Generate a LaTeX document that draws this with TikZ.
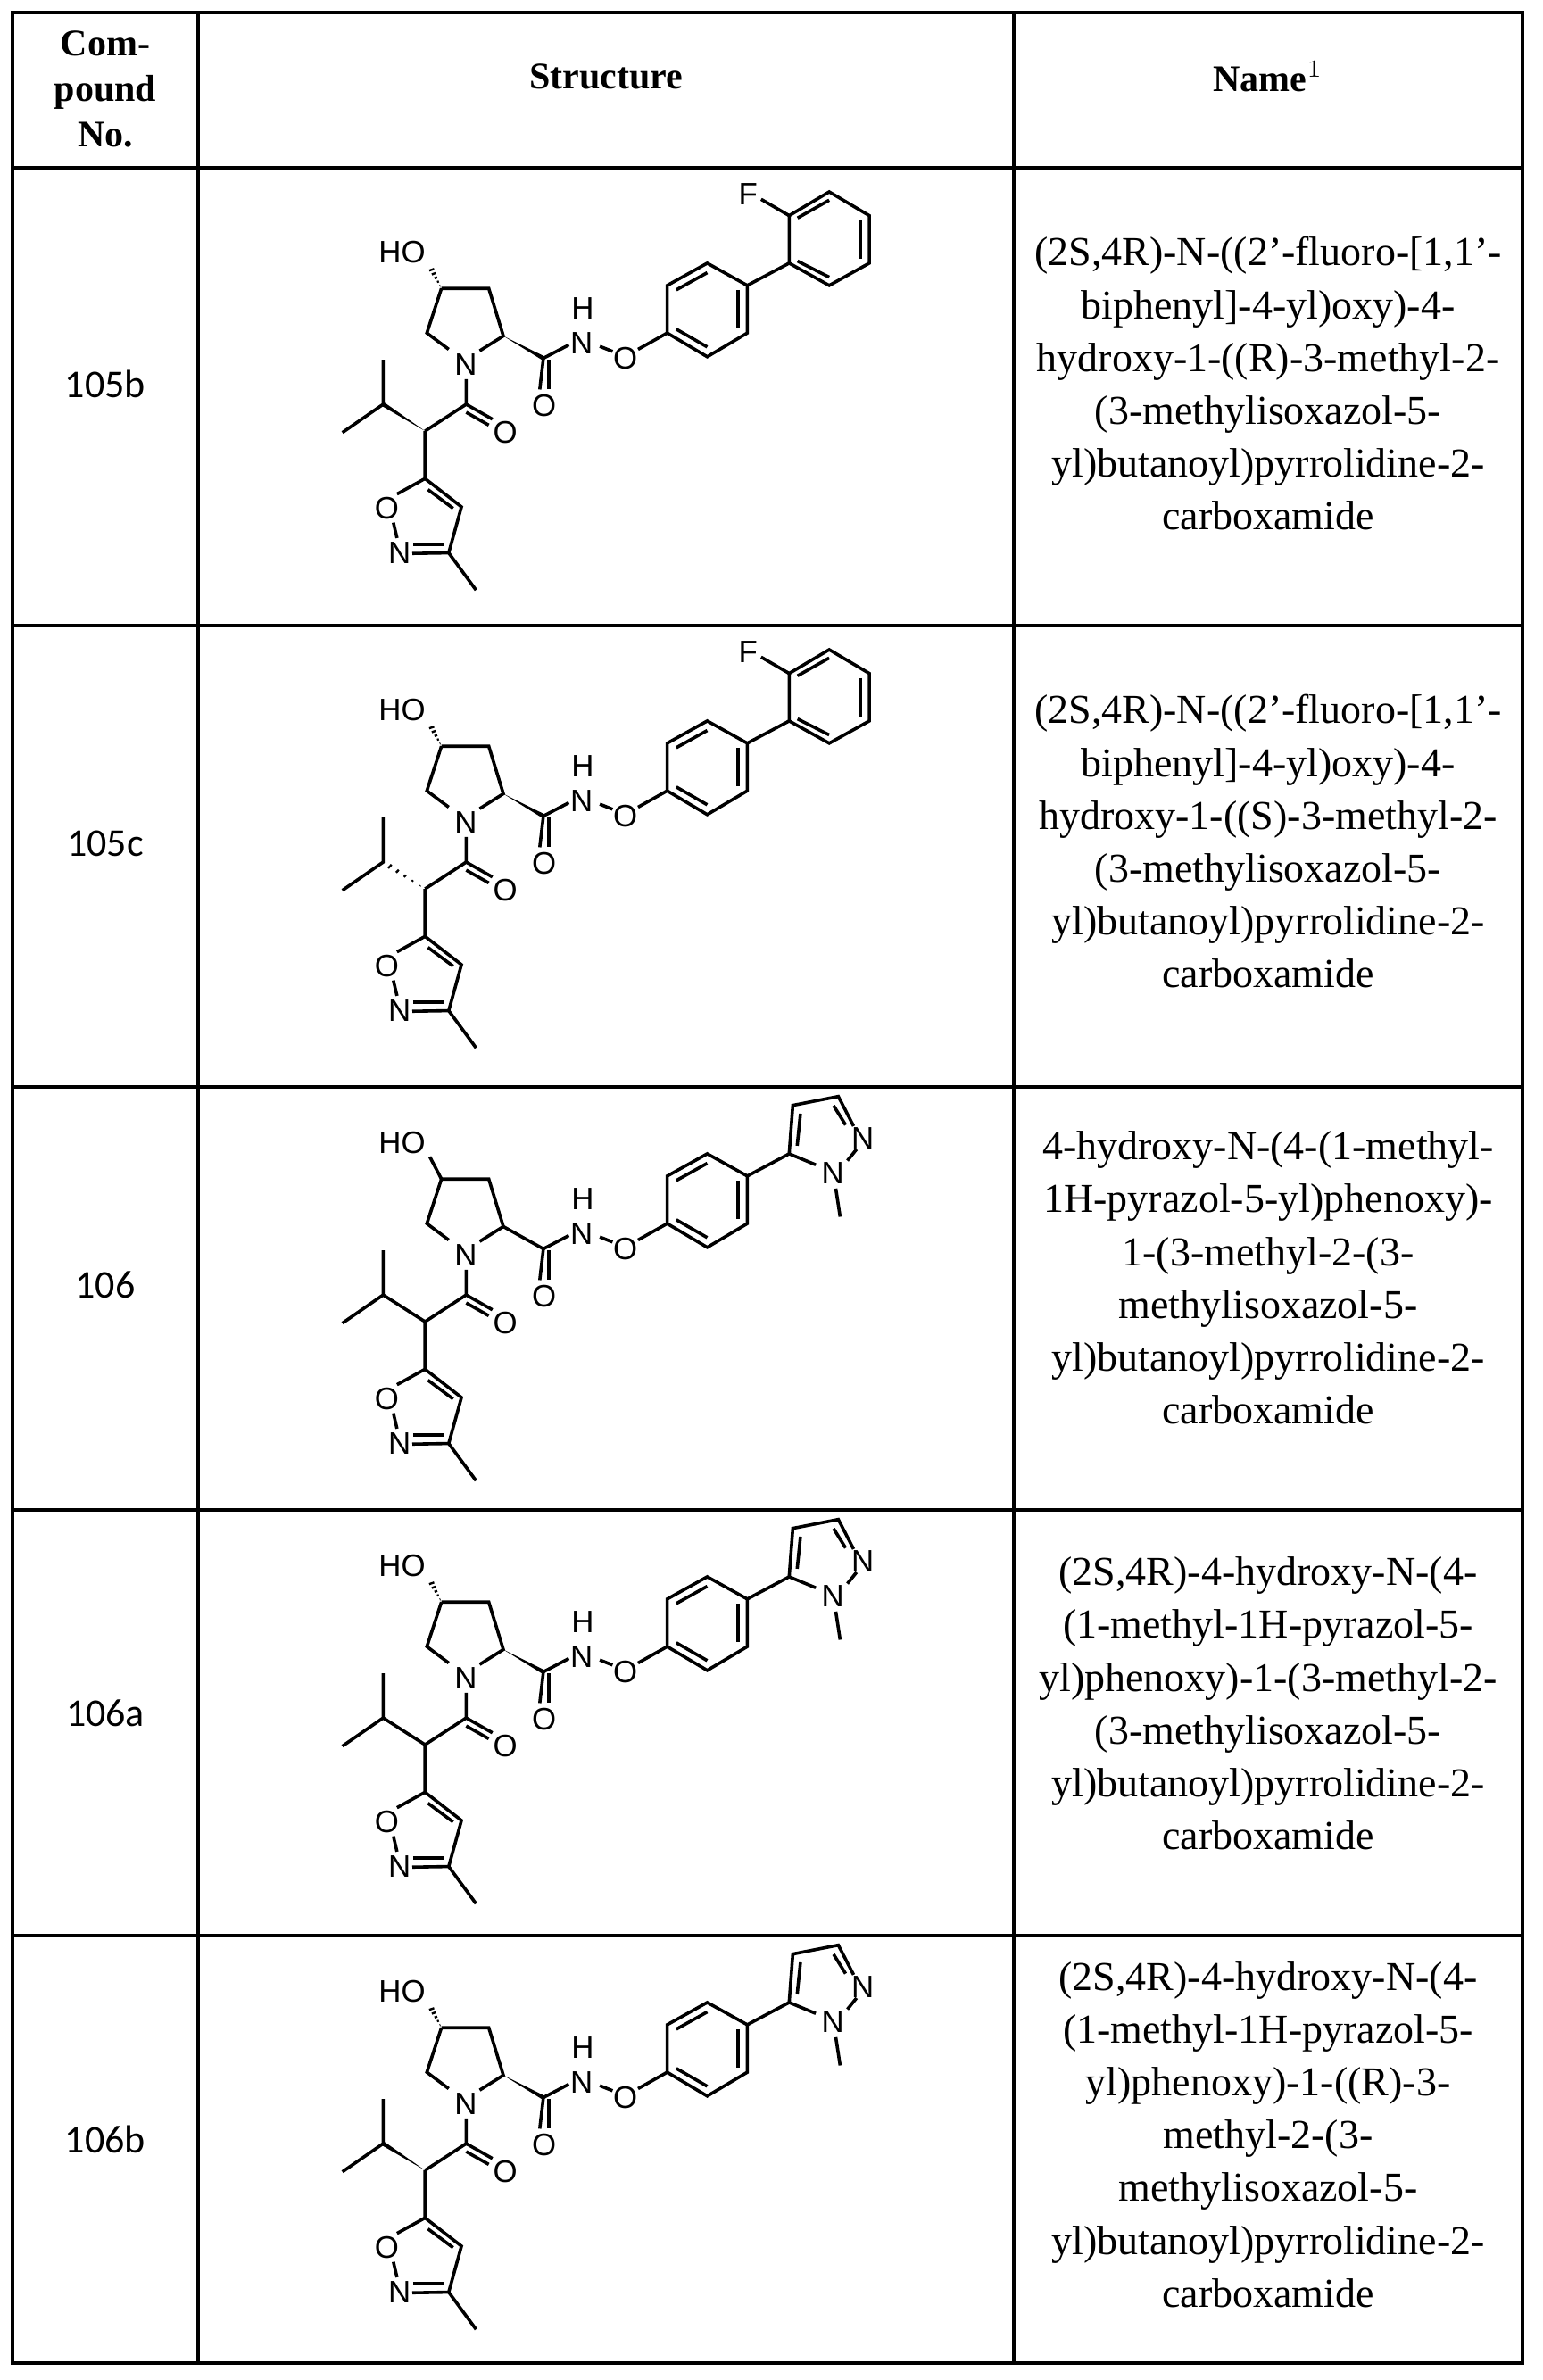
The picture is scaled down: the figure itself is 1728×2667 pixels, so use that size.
\documentclass[tikz,border=0pt]{standalone}
\usepackage{fontspec}
\setmainfont{Liberation Serif}[Ligatures=ResetAll]
\newfontfamily\atomfont{Liberation Sans}
\newfontfamily\numfont{Carlito}
\usetikzlibrary{calc}
\newcommand\qs{'}
\tikzset{
  grid/.style={line width=0.85pt},
  bond/.style={line width=0.9pt},
  atom/.style={font=\atomfont\fontsize{8.7}{8.7}\selectfont,inner sep=0pt},
  cnum/.style={font=\numfont\fontsize{11}{13}\selectfont},
  cname/.style={font=\fontsize{11.5}{14.8}\selectfont,align=center,text width=140pt},
  hdr/.style={font=\bfseries\fontsize{10.5}{12.7}\selectfont,align=center},
}
\newcommand\hashw[2]{%
  \foreach \t in {0.12,0.3,0.48,0.66,0.84,1.0}{%
    \draw[line width=0.6pt] ($(#1)!\t!(#2)!{\t*2.2pt}!90:(#2)$) -- ($(#1)!\t!(#2)!{\t*2.2pt}!-90:(#2)$);}}
\newcommand\boldw[2]{%
  \fill (#1) -- ($(#2)!1.7pt!90:(#1)$) -- ($(#2)!1.7pt!-90:(#1)$) -- cycle;}
% #1 prefix, #2 y origin, #3 HO stereo, #4 C2 stereo, #5 iPr stereo (0 plain,1 bold,2 hash), #6 0=F-biphenyl 1=pyrazole
\newcommand\molecule[6]{%
\begin{scope}[shift={(360,#2)},xscale=0.408,yscale=0.333]
  \coordinate (#1c4) at (330,400); \coordinate (#1c3) at (460,400);
  \coordinate (#1c2) at (500,560); \coordinate (#1c5) at (290,550);
  \coordinate (#1ho) at (298,325);
  \node[atom] (#1HO) at (222,278) {HO};
  \node[atom] (#1N) at (397,655) {N};
  \draw[bond] (#1c4) -- (#1c3) -- (#1c2) -- (435,610);
  \draw[bond] (#1c4) -- (#1c5) -- (350,605);
  \ifcase#3 \draw[bond] (#1c4) -- (#1ho); \or \hashw{#1c4}{#1ho} \fi
  \coordinate (#1ca) at (398,790); \coordinate (#1al) at (285,880);
  \coordinate (#1ip) at (170,790);
  \draw[bond] (398,705) -- (#1ca) -- (470,840);
  \draw[bond] (398,817) -- (460,860);
  \node[atom] (#1Oa) at (505,885) {O};
  \draw[bond] (#1ca) -- (#1al);
  \ifcase#5 \draw[bond] (#1al) -- (#1ip); \or \boldw{#1al}{#1ip} \or \hashw{#1al}{#1ip} \fi
  \draw[bond] (170,640) -- (#1ip) -- (58,885);
  \coordinate (#1i5) at (285,1040); \coordinate (#1i4) at (385,1135);
  \coordinate (#1i3) at (350,1290);
  \draw[bond] (#1al) -- (#1i5) -- (208,1092);
  \node[atom] (#1Oi) at (180,1140) {O};
  \draw[bond] (198,1188) -- (208,1240);
  \node[atom] (#1Ni) at (215,1290) {N};
  \draw[bond] (250,1292) -- (#1i3) -- (#1i4) -- (#1i5);
  \draw[bond] (252,1262) -- (335,1262);
  \draw[bond] (362,1140) -- (293,1077);
  \draw[bond] (#1i3) -- (425,1415);
  \coordinate (#1cb) at (610,635);
  \ifcase#4 \draw[bond] (#1c2) -- (#1cb); \or \boldw{#1c2}{#1cb} \fi
  \draw[bond] (#1cb) -- (600,740);
  \draw[bond] (625,640) -- (625,740);
  \node[atom] (#1Ob) at (612,795) {O};
  \draw[bond] (#1cb) -- (680,590);
  \node[atom] (#1NH) at (715,585) {N};
  \node[atom] (#1H) at (718,468) {H};
  \draw[bond] (765,595) -- (800,612);
  \node[atom] (#1Oc) at (835,635) {O};
  \coordinate (#1a1) at (950,550); \coordinate (#1a2) at (950,390);
  \coordinate (#1a3) at (1060,315); \coordinate (#1a4) at (1170,390);
  \coordinate (#1a5) at (1170,550); \coordinate (#1a6) at (1060,630);
  \draw[bond] (870,605) -- (#1a1);
  \draw[bond] (#1a1) -- (#1a2) -- (#1a3) -- (#1a4) -- (#1a5) -- (#1a6) -- cycle;
  \draw[bond] (975,405) -- (1060,347);
  \draw[bond] (1145,405) -- (1145,535);
  \draw[bond] (975,537) -- (1060,597);
  \coordinate (#1b1) at (1285,315);
  \draw[bond] (#1a4) -- (#1b1);
  \ifcase#6
    \coordinate (#1b2) at (1285,155); \coordinate (#1b3) at (1395,75);
    \coordinate (#1b4) at (1505,155); \coordinate (#1b5) at (1505,315);
    \coordinate (#1b6) at (1395,390);
    \draw[bond] (#1b1) -- (#1b2) -- (#1b3) -- (#1b4) -- (#1b5) -- (#1b6) -- cycle;
    \draw[bond] (1308,163) -- (1395,103);
    \draw[bond] (1480,170) -- (1480,300);
    \draw[bond] (1308,308) -- (1395,362);
    \node[atom] (#1F) at (1172,82) {F};
    \draw[bond] (1208,100) -- (#1b2);
  \or
    \coordinate (#1p4) at (1295,152); \coordinate (#1p3) at (1420,122);
    \draw[bond] (#1b1) -- (#1p4) -- (#1p3) -- (1462,222);
    \draw[bond] (1316,180) -- (1307,288);
    \draw[bond] (1407,153) -- (1440,218);
    \node[atom] (#1N2) at (1487,262) {N};
    \draw[bond] (1470,300) -- (1445,338);
    \node[atom] (#1N1) at (1405,380) {N};
    \draw[bond] (1358,352) -- (#1b1);
    \draw[bond] (1413,432) -- (1425,527);
  \fi
\end{scope}}
\begin{document}
\begin{tikzpicture}[x=0.25pt,y=-0.25pt]
\useasboundingbox (0,0) rectangle (1728,2667);
\fill[white] (0,0) rectangle (1728,2667);
\draw[grid] (14,14) rectangle (1706,2648);
\foreach \x in {222,1136} \draw[grid] (\x,14) -- (\x,2648);
\foreach \y in {188,701,1218,1692,2169} \draw[grid] (14,\y) -- (1706,\y);
\node[hdr] (h1) at (118,100) {Com-\\pound\\No.};
\node[hdr] (h2) at (679,86) {Structure};
\node[hdr] (h3) at (1421,86) {Name$^{1}$};
\node[cnum] (n1) at (118,430) {105b};
\node[cnum] (n2) at (118,945) {105c};
\node[cnum] (n3) at (118,1440) {106};
\node[cnum] (n4) at (118,1920) {106a};
\node[cnum] (n5) at (118,2397) {106b};
\node[cname] (m1) at (1421,430) {(2S,4R)-N-((2\qs-fluoro-[1,1\qs-\\biphenyl]-4-yl)oxy)-4-\\hydroxy-1-((R)-3-methyl-2-\\(3-methylisoxazol-5-\\yl)butanoyl)pyrrolidine-2-\\carboxamide};
\node[cname] (m2) at (1421,943) {(2S,4R)-N-((2\qs-fluoro-[1,1\qs-\\biphenyl]-4-yl)oxy)-4-\\hydroxy-1-((S)-3-methyl-2-\\(3-methylisoxazol-5-\\yl)butanoyl)pyrrolidine-2-\\carboxamide};
\node[cname] (m3) at (1421,1432) {4-hydroxy-N-(4-(1-methyl-\\1H-pyrazol-5-yl)phenoxy)-\\1-(3-methyl-2-(3-\\methylisoxazol-5-\\yl)butanoyl)pyrrolidine-2-\\carboxamide};
\node[cname] (m4) at (1421,1909) {(2S,4R)-4-hydroxy-N-(4-\\(1-methyl-1H-pyrazol-5-\\yl)phenoxy)-1-(3-methyl-2-\\(3-methylisoxazol-5-\\yl)butanoyl)pyrrolidine-2-\\carboxamide};
\node[cname] (m5) at (1421,2392) {(2S,4R)-4-hydroxy-N-(4-\\(1-methyl-1H-pyrazol-5-\\yl)phenoxy)-1-((R)-3-\\methyl-2-(3-\\methylisoxazol-5-\\yl)butanoyl)pyrrolidine-2-\\carboxamide};
\molecule{A}{190}{1}{1}{1}{0}
\molecule{B}{703}{1}{1}{2}{0}
\molecule{C}{1188}{0}{0}{0}{1}
\molecule{D}{1662}{1}{1}{0}{1}
\molecule{E}{2139}{1}{1}{1}{1}
\end{tikzpicture}
\end{document}
